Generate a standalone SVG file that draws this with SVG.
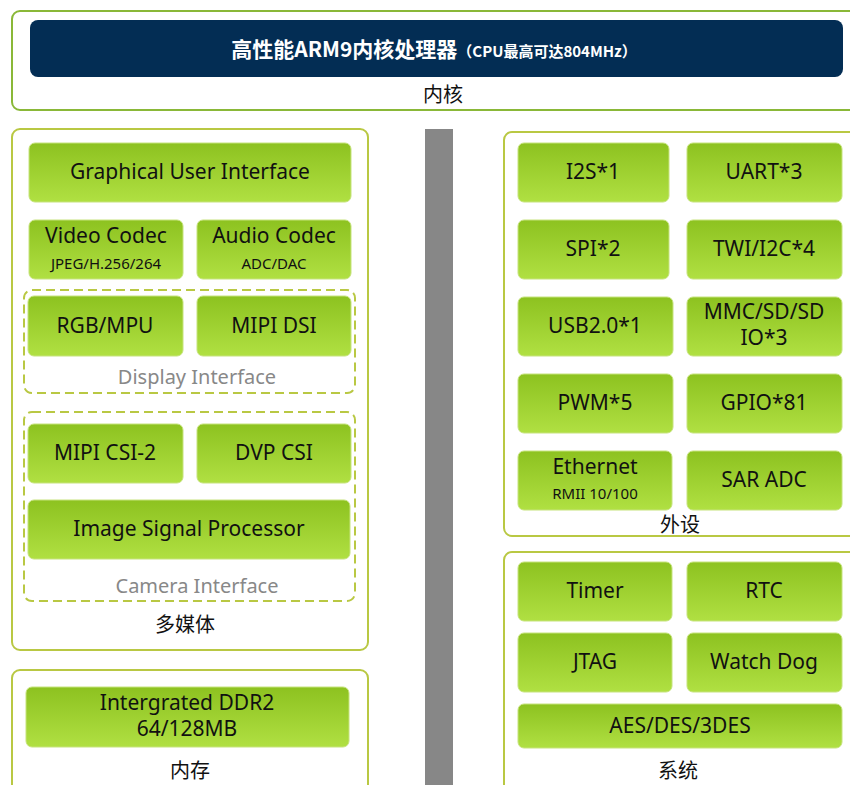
<svg xmlns="http://www.w3.org/2000/svg" width="850" height="785" viewBox="0 0 850 785">
<defs>
<linearGradient id="g" x1="0" y1="0" x2="0" y2="1">
<stop offset="0" stop-color="#8dc220"/>
<stop offset="1" stop-color="#b0e042"/>
</linearGradient>
<style>
.n{fill:url(#g);stroke:#c6e37c;stroke-width:1}
.t{font-family:"Noto Sans","Open Sans",sans-serif;font-size:21px;fill:#111;text-anchor:middle}
.s{font-family:"Noto Sans","Open Sans",sans-serif;font-size:15px;fill:#111;text-anchor:middle}
.g{font-family:"Noto Sans","Open Sans",sans-serif;font-size:20px;fill:#888;text-anchor:middle}
.c{font-family:"Noto Sans CJK SC",sans-serif;font-size:20px;fill:#111;text-anchor:middle}
.box{fill:#fff;stroke:#b9c843;stroke-width:2}
.dash{fill:none;stroke:#b9c843;stroke-width:2;stroke-dasharray:9 5}
</style>
</defs>
<rect width="850" height="785" fill="#fff"/>

<g id="core">
<rect x="12" y="11" width="850" height="99" rx="8" fill="#fff" stroke="#8ab838" stroke-width="2"/>
<rect x="30" y="20" width="813" height="57" rx="8" fill="#032d54"/>
<text x="434" y="57" font-family="'Noto Sans CJK SC',sans-serif" font-weight="bold" fill="#fff" text-anchor="middle"><tspan font-size="21">高性能ARM9内核处理器</tspan><tspan font-size="15">（CPU最高可达804MHz）</tspan></text>
<text class="c" x="443" y="102">内核</text>
</g>

<g id="bar"><rect x="425" y="129" width="28" height="660" fill="#878787"/></g>

<g id="multimedia">
<rect class="box" x="12" y="129" width="356" height="521" rx="8"/>
<text class="c" x="185" y="632">多媒体</text>
</g>
<g id="display-if">
<rect class="dash" x="24" y="290" width="331" height="103" rx="8"/>
<text class="g" x="197" y="384">Display Interface</text>
</g>
<g id="camera-if">
<rect class="dash" x="24" y="412" width="331" height="189" rx="8"/>
<text class="g" x="197" y="593">Camera Interface</text>
</g>
<g id="gui"><rect class="n" x="29" y="143" width="322" height="59" rx="6"/><text class="t" x="190" y="179">Graphical User Interface</text></g>
<g id="video"><rect class="n" x="29" y="220" width="154" height="59" rx="6"/><text class="t" x="106" y="243">Video Codec</text><text class="s" x="106" y="269">JPEG/H.256/264</text></g>
<g id="audio"><rect class="n" x="197" y="220" width="154" height="59" rx="6"/><text class="t" x="274" y="243">Audio Codec</text><text class="s" x="274" y="269">ADC/DAC</text></g>
<g id="rgb"><rect class="n" x="28" y="296" width="155" height="60" rx="6"/><text class="t" x="105" y="333">RGB/MPU</text></g>
<g id="dsi"><rect class="n" x="197" y="296" width="154" height="60" rx="6"/><text class="t" x="274" y="333">MIPI DSI</text></g>
<g id="csi2"><rect class="n" x="28" y="424" width="155" height="59" rx="6"/><text class="t" x="105" y="460">MIPI CSI-2</text></g>
<g id="dvp"><rect class="n" x="197" y="424" width="154" height="59" rx="6"/><text class="t" x="274" y="460">DVP CSI</text></g>
<g id="isp"><rect class="n" x="28" y="500" width="322" height="59" rx="6"/><text class="t" x="189" y="536">Image Signal Processor</text></g>

<g id="memory">
<rect class="box" x="12" y="670" width="356" height="130" rx="8"/>
<text class="c" x="190" y="778">内存</text>
</g>
<g id="ddr"><rect class="n" x="26" y="687" width="323" height="60" rx="6"/><text class="t" x="187" y="710">Intergrated DDR2</text><text class="t" x="187" y="736">64/128MB</text></g>

<g id="peripheral">
<rect class="box" x="504" y="132" width="360" height="404" rx="8"/>
<text class="c" x="680" y="532">外设</text>
</g>
<g id="i2s"><rect class="n" x="518" y="143" width="151" height="59" rx="6"/><text class="t" x="593" y="179">I2S*1</text></g>
<g id="uart"><rect class="n" x="687" y="143" width="155" height="59" rx="6"/><text class="t" x="764" y="179">UART*3</text></g>
<g id="spi"><rect class="n" x="518" y="220" width="151" height="59" rx="6"/><text class="t" x="593" y="256">SPI*2</text></g>
<g id="twi"><rect class="n" x="687" y="220" width="155" height="59" rx="6"/><text class="t" x="764" y="256">TWI/I2C*4</text></g>
<g id="usb"><rect class="n" x="518" y="297" width="155" height="59" rx="6"/><text class="t" x="595" y="333">USB2.0*1</text></g>
<g id="mmc"><rect class="n" x="687" y="297" width="155" height="59" rx="6"/><text class="t" x="764" y="319">MMC/SD/SD</text><text class="t" x="764" y="345">IO*3</text></g>
<g id="pwm"><rect class="n" x="518" y="374" width="155" height="59" rx="6"/><text class="t" x="595" y="410">PWM*5</text></g>
<g id="gpio"><rect class="n" x="687" y="374" width="155" height="59" rx="6"/><text class="t" x="764" y="410">GPIO*81</text></g>
<g id="eth"><rect class="n" x="518" y="451" width="154" height="59" rx="6"/><text class="t" x="595" y="474">Ethernet</text><text class="s" x="595" y="499">RMII 10/100</text></g>
<g id="sar"><rect class="n" x="687" y="451" width="155" height="59" rx="6"/><text class="t" x="764" y="487">SAR ADC</text></g>

<g id="system">
<rect class="box" x="504" y="552" width="360" height="250" rx="8"/>
<text class="c" x="678" y="778">系统</text>
</g>
<g id="timer"><rect class="n" x="518" y="562" width="154" height="59" rx="6"/><text class="t" x="595" y="598">Timer</text></g>
<g id="rtc"><rect class="n" x="687" y="562" width="155" height="59" rx="6"/><text class="t" x="764" y="598">RTC</text></g>
<g id="jtag"><rect class="n" x="518" y="633" width="154" height="59" rx="6"/><text class="t" x="595" y="669">JTAG</text></g>
<g id="wdog"><rect class="n" x="687" y="633" width="155" height="59" rx="6"/><text class="t" x="764" y="669">Watch Dog</text></g>
<g id="aes"><rect class="n" x="518" y="704" width="324" height="44" rx="6"/><text class="t" x="680" y="733">AES/DES/3DES</text></g>

<g id="connectors"></g>
</svg>
